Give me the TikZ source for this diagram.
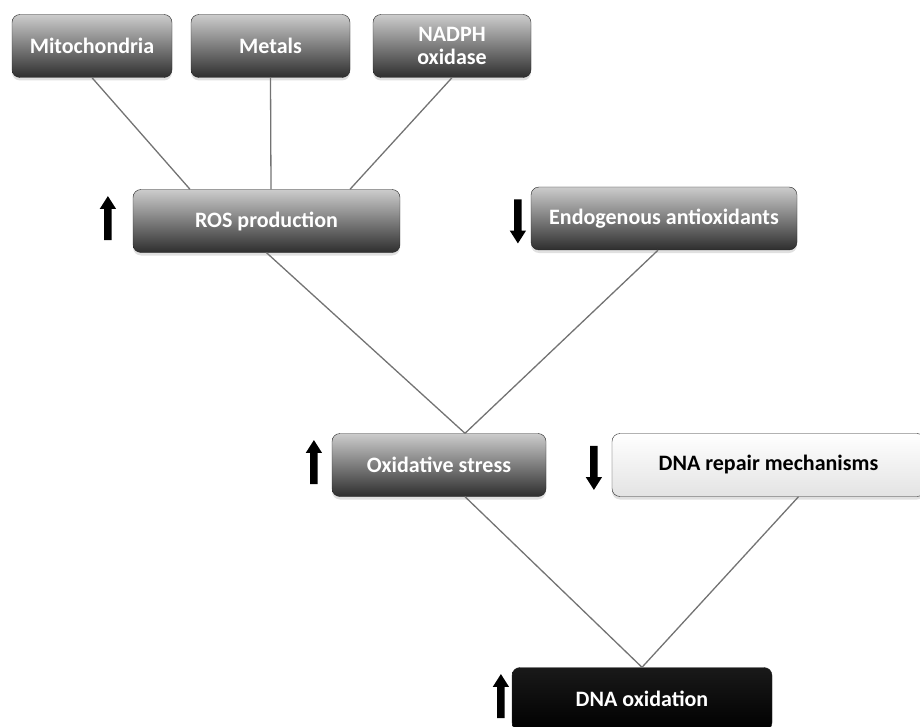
\documentclass[tikz,border=0pt]{standalone}
\usepackage{fontspec}
\setmainfont{Carlito}
\usetikzlibrary{positioning,shapes.arrows,shadows}

\tikzset{
  cause/.style={draw=black!85, rounded corners=8pt, top color=gray!40, bottom color=black!82,
    text=white, font=\bfseries\fontsize{22}{23}\selectfont, align=center,
    minimum height=63pt, inner sep=2pt,
    drop shadow={shadow xshift=0pt, shadow yshift=-3pt, fill=gray!40, opacity=.6}},
  repairbox/.style={cause, top color=white, bottom color=gray!22, text=black},
  resultbox/.style={cause, top color=black!90, bottom color=black, text=white},
  link/.style={draw=black!55, line width=1.3pt},
  uparr/.style={single arrow, fill=black, inner sep=3.5pt, minimum height=44pt, minimum width=16pt,
    single arrow head extend=4.5pt, single arrow head indent=0pt, single arrow tip angle=65,
    shape border rotate=90},
  downarr/.style={uparr, shape border rotate=270}
}

\begin{document}
\begin{tikzpicture}[x=1pt,y=-1pt]
\clip (0,0) rectangle (920,727);

% sources
\node[cause, minimum width=160pt] (mito) at (92,46) {Mitochondria};
\node[cause, minimum width=159pt] (metals) at (270.5,46) {Metals};
\node[cause, minimum width=158pt] (nadph) at (452,46) {NADPH\\oxidase};

% middle level
\node[cause, minimum width=267pt] (ros) at (266.5,221) {ROS production};
\node[cause, minimum width=266pt] (endo) at (664,218.5) {Endogenous antioxidants};
\node[cause, minimum width=214pt] (oxid) at (439,465) {Oxidative stress};
\node[repairbox, minimum width=313pt] (repair) at (768.5,465) {DNA repair mechanisms};
\node[resultbox, minimum width=260pt] (dnaox) at (642,699) {DNA oxidation};

% up / down markers
\node[uparr, left=21pt of ros] (rosup) {};
\node[downarr, left=9pt of endo] (endodown) {};
\node[uparr, left=14pt of oxid] (oxidup) {};
\node[downarr, left=14pt of repair] (repairdown) {};
\node[uparr, left=7pt of dnaox] (dnaoxup) {};

% links
\draw[link] (mito.south) -- ([xshift=-76.5pt]ros.north);
\draw[link] (metals.south) -- ([xshift=4.5pt]ros.north);
\draw[link] (nadph.south) -- ([xshift=83.5pt]ros.north);
\draw[link] (ros.south) -- ([xshift=26pt]oxid.north);
\draw[link] ([xshift=-6pt]endo.south) -- ([xshift=26pt]oxid.north);
\draw[link] ([xshift=26pt]oxid.south) -- (dnaox.north);
\draw[link] ([xshift=30pt]repair.south) -- (dnaox.north);
\end{tikzpicture}
\end{document}
